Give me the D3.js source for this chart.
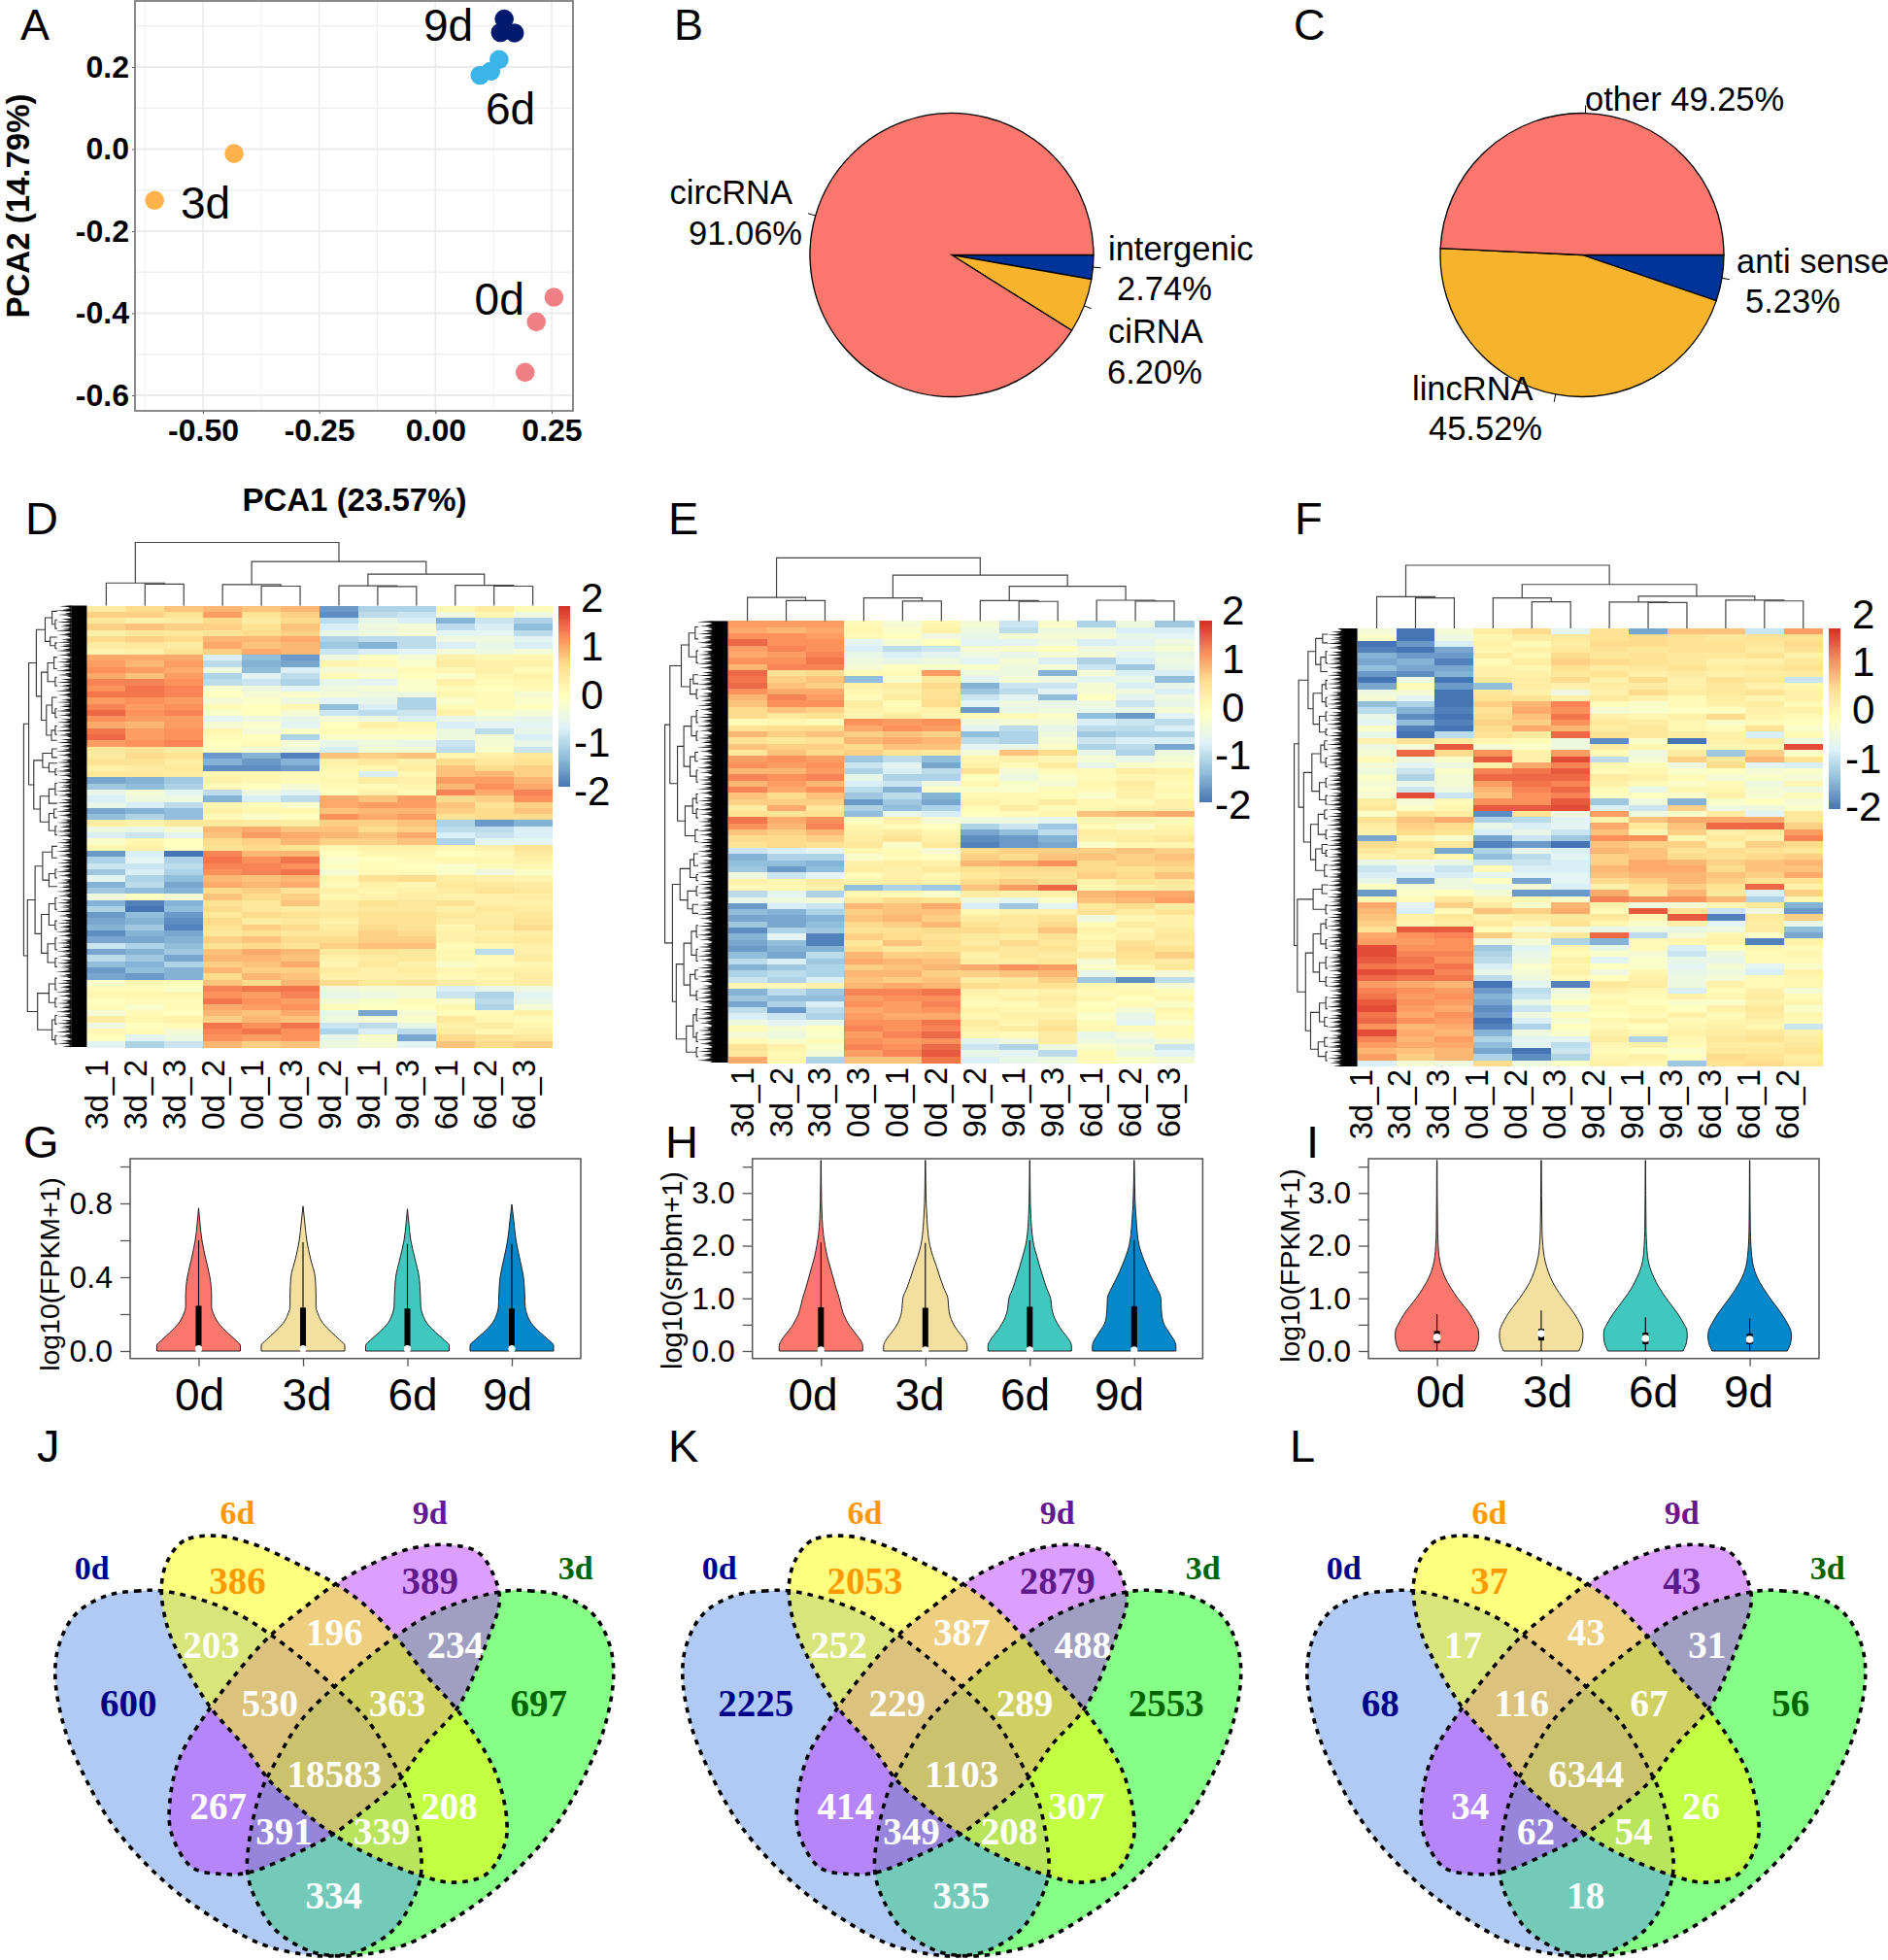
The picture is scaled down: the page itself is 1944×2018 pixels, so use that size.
<!DOCTYPE html>
<html><head><meta charset="utf-8">
<script src="https://cdn.jsdelivr.net/npm/d3@7/dist/d3.min.js"></script>
<style>
html,body{margin:0;padding:0;background:#fff}
svg{display:block}
text{font-family:"Liberation Sans",Arial,sans-serif;fill:#000}
.serif{font-family:"Liberation Serif","Times New Roman",serif;font-weight:bold}
</style></head><body><svg id="c" width="1944" height="2018"></svg>
<script>
/* ---------- PANEL A ---------- */
const pcaGroups=["0d","3d","6d","9d"];
const pcaX0=[0.255,0.217,0.193], pcaY0=[-0.361,-0.421,-0.544];
const pcaX3=[-0.433,-0.604], pcaY3=[-0.011,-0.125];
const pcaX6=[0.137,0.119,0.096], pcaY6=[0.218,0.190,0.180];
const pcaX9=[0.148,0.140,0.170], pcaY9=[0.317,0.284,0.283];
const pcaXTicks=[-0.5,-0.25,0,0.25], pcaYTicks=[-0.6,-0.4,-0.2,0,0.2];
const pcaXMinor=[-0.625,-0.375,-0.125,0.125], pcaYMinor=[-0.5,-0.3,-0.1,0.1,0.3];
/* ---------- PANELS B, C ---------- */
const pieBLabels=["intergenic","ciRNA","circRNA"], pieBValues=[2.74,6.20,91.06];
const pieCLabels=["anti sense","lincRNA","other"], pieCValues=[5.23,45.52,49.25];
/* ---------- PANELS D, E, F ---------- */
const colsD=["3d_1","3d_2","3d_3","0d_2","0d_1","0d_3","9d_2","9d_1","9d_3","6d_1","6d_2","6d_3"];
const colsE=["3d_1","3d_2","3d_3","0d_3","0d_1","0d_2","9d_2","9d_1","9d_3","6d_1","6d_2","6d_3"];
const colsF=["3d_1","3d_2","3d_3","0d_1","0d_2","0d_3","9d_2","9d_1","9d_3","6d_3","6d_1","6d_2"];
const legendTicks=[2,1,0,-1,-2];
/* z-scores × 10, read band by band */
const heatD=[
[4,7,9,10,9,10,-14,-9,-9,2,4,1],[8,8,6,12,6,8,-15,-8,-7,-3,2,-3],[5,3,4,7,4,7,-8,-4,-6,-12,-7,-9],[8,9,8,8,6,9,-6,-3,-2,-8,-6,-11],
[3,5,5,6,7,8,-4,-3,-2,-5,-5,-8],[7,8,7,10,10,11,-9,-8,-8,-3,-3,-5],[4,5,4,11,9,10,-10,-12,-8,-6,-4,-6],[2,3,6,8,11,10,-7,-6,-5,-2,-3,-2],
[11,11,11,-6,-11,-14,-3,0,-2,3,2,2],[12,10,12,-8,-12,-13,2,1,-1,4,3,3],[13,12,11,-3,-11,-6,-2,-2,1,2,3,1],[11,9,12,-9,-5,-8,1,-1,0,-1,2,3],
[14,14,13,-8,-7,-9,-4,-5,-1,3,1,2],[13,15,14,-1,-3,-5,-3,-2,-1,1,0,1],[15,15,14,0,-2,-1,-2,-3,-3,2,1,-2],[12,13,12,-2,-1,-3,-5,-4,-9,-1,1,-1],
[14,12,13,1,0,2,-11,-6,-9,1,1,0],[16,13,14,-1,0,-2,-7,-8,-7,3,-1,-2],[13,12,12,-5,-3,-4,-2,-3,-6,-4,-3,-4],[11,10,12,-2,-1,-5,0,3,2,-6,-5,-5],
[15,12,13,2,-2,-1,1,1,1,-3,-8,-4],[16,12,13,1,0,-9,-1,-1,-1,-3,-2,-6],[12,13,14,0,1,-2,-4,-3,-4,-7,-2,-4],[5,6,4,0,-2,-3,-6,-2,-2,-8,-1,-7],
[4,7,6,-14,-12,-16,9,8,9,2,3,5],[6,6,4,-12,-14,-12,3,5,3,7,5,6],[3,4,5,-15,-15,-14,2,2,4,9,7,8],[5,5,4,2,2,1,1,-6,2,9,10,8],
[-13,-12,-10,3,2,1,2,4,3,12,12,10],[-10,-11,-9,1,0,-2,1,1,2,10,13,11],[-4,-2,-5,-8,-3,-5,0,3,1,14,11,14],[-6,-3,-3,-12,-6,-8,11,9,12,7,8,13],
[-4,-6,-8,2,1,-1,11,12,12,9,6,8],[-13,-12,-11,3,2,2,9,10,10,8,7,9],[-11,-9,-11,1,-1,0,13,11,12,6,7,7],[4,3,5,5,4,4,8,8,9,-9,-14,-12],
[-3,-4,-2,10,11,9,9,7,8,-8,-8,-6],[-6,-7,-5,9,12,11,10,9,11,-6,-7,-6],[-1,2,0,7,8,10,8,8,9,-9,-5,-5],[2,3,0,6,7,6,2,3,3,2,3,6],
[-14,-6,-17,14,10,10,0,2,2,0,1,4],[-9,-5,-9,15,13,15,-1,0,1,2,2,3],[-7,-7,-8,14,14,13,0,1,0,-1,1,2],[-10,-6,-9,13,14,15,-2,1,1,-1,-3,-1],
[-5,-9,-11,10,9,10,2,6,7,4,3,2],[-12,-8,-13,11,10,11,1,3,2,5,5,4],[-10,-11,-12,7,8,6,3,2,3,4,6,5],[-3,0,-2,9,7,8,2,3,4,3,3,4],
[-12,-16,-12,6,5,9,4,6,5,6,3,3],[-9,-17,-11,7,5,4,4,5,5,3,5,4],[-14,-11,-14,5,7,6,5,6,6,5,4,5],[-13,-12,-15,7,4,5,3,6,6,4,4,6],
[-12,-10,-16,6,8,7,4,7,6,2,5,7],[-15,-12,-13,5,6,5,5,8,7,3,3,4],[-13,-13,-12,8,9,7,7,8,8,3,4,5],[-7,-9,-11,6,7,6,8,9,9,1,2,3],
[-13,-12,-10,9,11,10,5,6,5,2,-8,3],[-8,-10,-13,10,10,9,3,4,5,2,1,4],[-11,-12,-9,8,9,11,2,5,3,-1,1,2],[-14,-11,-12,10,8,8,4,3,4,2,3,3],
[-13,-14,-12,7,10,9,3,3,3,1,2,4],[-1,2,1,9,7,10,7,5,6,4,3,4],[1,1,-1,14,15,15,-3,-2,-2,-6,-4,-3],[2,2,2,13,12,14,-4,-3,-2,-7,-9,-5],
[0,1,1,15,13,12,-2,-1,1,-1,-8,-4],[1,-1,1,11,12,13,1,0,0,2,-9,-2],[-2,1,0,10,9,11,-4,-13,-2,1,1,3],[4,2,3,8,10,9,-3,-2,-1,5,2,1],
[-3,0,1,15,13,15,-7,-8,-4,3,4,2],[2,1,-2,14,15,13,-9,-6,-8,4,2,3],[0,-5,-3,13,12,13,-4,-1,-13,7,6,5],[-5,-9,-7,10,8,9,-3,-2,-5,9,7,8]];
const heatE=[
[12,12,12,1,-2,2,-2,-7,-1,-9,-3,-10],[11,10,11,2,-1,3,-3,-8,-3,-3,-6,-6],[13,13,12,1,0,-3,-4,-2,-2,-2,-4,-5],[16,13,13,-5,-2,0,-5,-5,-3,-6,-5,-3],
[12,14,13,-6,-8,-7,-2,-1,0,-3,-3,-2],[11,12,14,-4,-6,-5,-3,-4,-2,-2,-5,-4],[13,13,15,-3,-4,-3,-5,-2,-6,-9,-6,-3],[10,14,14,-2,0,-1,-1,-3,-2,-7,-10,-4],
[16,6,7,1,1,12,-3,-3,-12,-2,-6,-6],[15,8,9,-11,-1,5,-5,-2,-3,-5,-4,-11],[16,9,8,3,4,7,-12,-7,-7,-2,-6,-4],[13,11,11,2,3,6,-10,-8,-5,-2,-3,-6],
[10,14,12,1,4,6,-7,-5,-11,0,-5,-3],[9,13,13,4,1,7,-5,-3,-4,-3,-7,-4],[7,9,8,3,2,3,-14,-4,-3,-4,-4,-2],[7,5,6,2,4,2,1,1,-1,-11,-14,-5],
[1,2,1,13,12,13,-3,-2,-2,-6,-7,-8],[6,7,7,11,13,12,-5,-8,-4,-8,-8,-6],[10,8,9,8,9,8,-11,-9,-3,-10,-9,-9],[6,5,6,10,11,10,-8,-9,-2,-7,-6,-6],
[9,8,8,7,9,9,-5,-4,-1,-9,-8,-13],[5,9,7,8,6,5,-2,9,7,-4,-9,-3],[12,13,12,-10,-8,-11,2,3,2,-2,-4,-2],[13,12,13,-7,-5,-13,3,1,4,-4,-1,-1],
[10,10,12,-9,-6,-8,6,-2,1,1,4,3],[14,13,14,-4,-9,-9,0,-3,-1,1,2,2],[10,12,10,-6,-7,-3,2,-1,-2,2,4,1],[14,11,13,-8,-12,-1,-1,-1,1,1,3,2],
[9,7,9,-10,-8,-12,2,2,1,-1,3,1],[8,8,8,-14,-10,-13,3,2,4,2,1,3],[4,11,5,-9,-11,-9,1,4,1,2,3,3],[6,6,6,-11,-4,-6,0,1,2,9,10,11],
[15,11,13,0,3,-2,-3,-3,-5,2,2,1],[13,10,14,2,1,0,-9,-7,-10,1,-1,2],[9,8,10,3,4,2,-13,-11,-8,4,3,3],[7,7,8,4,6,3,-15,-14,-12,3,4,5],
[6,7,6,5,-1,5,-16,-14,-13,-1,2,2],[-7,-6,-5,2,1,-2,7,8,8,8,9,8],[-12,-9,-9,-1,1,0,8,7,9,9,8,9],[-11,-11,-12,3,4,3,10,11,13,7,8,8],
[-10,-14,-11,4,3,5,6,7,7,7,6,7],[-3,-7,-5,1,3,2,5,6,6,8,7,9],[3,2,4,3,4,3,7,8,7,3,6,5],[1,2,3,-11,-9,-10,9,12,16,2,3,4],
[-8,-5,-9,2,1,-1,4,3,3,10,11,11],[-4,-3,-2,5,7,6,-3,-5,-1,9,10,12],[-14,-6,-7,10,9,11,-6,-10,-5,5,7,4],[-11,-12,-9,8,9,9,2,3,3,6,4,6],
[-13,-13,-12,9,10,8,4,5,6,-3,2,3],[-10,-13,-11,7,8,10,6,5,7,1,4,3],[-15,-9,-10,6,6,7,7,6,9,3,2,4],[-12,-5,-16,8,7,6,5,4,6,2,3,5],
[-13,-11,-16,5,9,7,4,7,5,3,6,4],[-14,-12,-12,7,5,6,6,5,6,2,7,6],[-11,-13,-8,10,8,8,3,5,4,4,6,8],[-8,-6,-10,11,10,9,4,4,5,-2,5,4],
[-12,-10,-9,8,9,10,11,13,12,-1,2,5],[-9,-8,-9,10,10,8,8,9,10,-4,-1,-2],[-7,-9,-6,9,8,9,4,5,8,-10,-15,-8],[2,1,3,10,11,10,7,6,6,2,1,-2],
[-12,-8,-10,14,14,15,3,2,3,1,2,1],[-10,-11,-11,12,13,13,2,3,4,2,0,2],[-13,-9,-6,13,12,14,1,1,3,0,1,-1],[-8,-14,-8,11,12,13,3,2,2,1,-2,2],
[-6,-7,-9,12,11,11,2,3,3,-1,-4,1],[-3,-5,-4,13,13,15,4,2,5,1,-5,-1],[1,-2,0,14,13,14,3,4,6,2,1,1],[-2,-3,-1,12,14,16,2,1,4,-4,-2,1],
[1,-1,1,13,12,13,-5,-3,4,-3,-4,-2],[6,3,-1,14,13,16,-7,-9,-3,-1,-2,-7],[5,2,-2,12,14,17,-4,-5,-8,1,-3,-5],[11,2,-9,9,9,15,-6,-4,-3,1,-1,-2]];
const heatF=[
[-2,-18,-2,4,7,-5,6,-13,9,9,-7,12],[-1,-18,-3,2,4,5,6,7,6,5,6,6],[-17,-14,-6,3,1,4,7,7,6,6,5,7],[-16,-17,-13,2,3,5,6,5,6,6,4,6],
[-12,-14,-14,4,2,7,5,6,5,5,6,3],[-13,-12,-16,1,4,8,7,6,5,3,3,5],[-11,-13,-13,3,2,6,4,5,6,4,5,6],[-14,-15,-12,3,3,5,6,3,4,3,4,4],
[-17,-3,-17,5,4,7,3,7,3,6,5,-7],[-13,1,-14,-11,4,3,4,4,3,5,3,2],[-3,-2,-18,5,3,-3,3,7,4,5,6,3],[-2,-5,-18,6,6,3,5,3,1,4,2,3],
[-11,-9,-18,8,10,14,1,-1,1,3,4,1],[-8,-12,-16,6,11,13,-2,-1,0,0,3,3],[-4,-15,-17,7,9,15,3,2,3,7,2,1],[-5,-11,-16,8,8,13,5,4,2,-1,1,0],
[-1,-16,-17,7,11,10,4,5,2,1,6,-1],[-4,-17,-8,6,5,16,6,5,4,3,-6,1],[3,6,4,2,1,-3,-15,-1,-17,3,4,-3],[-3,-2,17,-2,-1,-3,4,2,1,2,2,18],
[-2,16,7,13,3,12,1,-3,4,-10,8,-1],[1,-3,-1,17,3,18,-8,-2,8,5,10,6],[-2,-5,-3,3,11,14,2,1,-3,7,-5,-6],[-3,-7,-1,14,15,17,1,2,-1,0,-2,-1],
[-1,-9,-2,16,16,16,4,3,1,-2,-1,-2],[-2,-4,-2,12,15,14,3,1,-1,1,-3,2],[-1,-7,-3,10,14,16,1,-4,2,2,-2,-3],[-2,18,-7,9,13,14,0,0,-1,3,-2,1],
[4,-2,1,13,13,17,-10,-3,-12,-1,0,-2],[5,-1,2,17,17,18,-6,-7,8,-3,-3,-1],[-1,6,4,-15,6,-3,12,-3,-1,4,-5,5],[6,9,11,-9,-8,-5,3,9,11,11,11,5],
[4,8,7,-4,-6,-5,11,5,9,16,16,8],[3,7,6,-6,-4,-7,9,2,8,3,5,12],[-13,2,-1,-13,-7,-10,13,13,2,5,3,14],[7,6,5,-16,-14,-18,9,8,8,3,8,7],
[5,3,-13,-9,-4,-6,10,9,6,7,6,5],[3,4,2,-11,-8,-5,8,9,7,6,7,8],[-4,-3,-4,-7,-7,-6,8,11,10,8,9,10],[-7,-5,-7,1,-6,-6,10,11,11,7,9,9],
[-6,-6,-6,-5,-5,-5,9,10,10,9,8,11],[-4,-13,-3,0,-13,-5,7,8,10,8,6,6],[0,-2,-3,-4,-2,-6,3,6,8,6,16,3],[-14,-1,0,-2,-14,-14,11,5,10,5,-6,8],
[2,1,5,2,2,-1,14,13,13,10,-9,2],[11,-5,8,4,-1,10,3,-3,-2,2,5,-12],[10,-6,1,9,8,11,1,17,6,-7,-3,-14],[9,3,5,3,4,5,5,2,17,-16,5,8],
[8,2,4,5,2,6,2,-1,3,-5,4,-4],[6,17,17,1,-2,-2,-4,-3,-4,-3,4,-11],[11,13,14,8,3,5,16,-8,-2,2,-1,-13],[12,12,13,-3,-2,-9,-12,1,2,3,-16,3],
[18,13,13,-10,-5,2,-4,1,-6,0,2,1],[18,14,14,-9,-4,1,-1,-2,-7,-3,1,2],[17,15,13,-8,-3,3,-5,-1,-4,-4,1,1],[15,14,15,-6,-1,2,0,-1,-5,-2,-5,-1],
[18,17,14,-4,-2,3,-3,2,-4,-3,-6,3],[16,15,15,-8,-3,1,0,3,-3,-2,1,2],[12,11,10,-17,-5,-16,5,4,-3,3,1,2],[14,13,12,-14,-8,-3,3,2,-6,1,3,-2],
[15,12,13,-12,-7,-2,1,1,3,2,4,1],[17,13,12,-13,-4,0,2,0,-1,-1,3,2],[18,12,11,-15,-7,-3,1,2,0,3,5,-1],[15,11,13,-14,-3,1,0,1,3,1,4,2],
[16,13,12,-17,-6,-2,2,3,1,2,3,1],[13,10,11,-16,-9,0,1,0,2,3,2,-7],[18,11,10,-12,-3,-1,3,2,3,4,5,3],[14,10,12,-9,-5,-5,4,-9,2,5,6,4],
[12,11,11,-11,-5,-8,2,3,1,4,4,5],[10,9,10,-13,-17,-7,1,0,-1,5,5,6],[12,8,10,-9,-15,-9,2,3,0,7,6,4],[-6,-2,-3,7,-3,-1,3,2,-10,6,7,5]];
/* column dendrograms: [height, left, right], leaves are column numbers */
const colTreeD=[1,[.358,0,[.34,1,2]],[.698,[.333,3,[.308,4,5]],[.497,[.314,6,[.302,7,8]],[.32,9,[.308,10,11]]]]];
const colTreeE=[1,[.373,0,[.323,1,2]],[.728,[.367,3,[.316,4,5]],[.55,[.323,6,[.31,7,8]],[.329,9,[.316,10,11]]]]];
const colTreeF=[1,[.503,0,[.484,1,2]],[.696,[.484,3,[.42,4,5]],[.509,[.416,6,[.41,7,8]],[.447,9,[.435,10,11]]]]];
/* row dendrograms: leaves are numbers of rows */
const rowTreeD=[1,
 [.92,[.8,[.66,[.55,2,[.5,1,2]],[.58,1,[.5,1,1]]],[.72,[.62,[.52,2,2],[.5,1,2]],[.64,[.55,2,[.5,2,1]],[.56,[.5,2,1],1]]]],
  [.84,[.7,[.55,2,1],[.6,1,[.5,1,1]]],[.74,[.6,[.5,2,2],1],[.6,[.52,1,2],[.5,1,2]]]]],
 [.94,[.82,[.7,[.55,2,2],[.6,[.5,2,1],2]],[.72,[.6,[.5,2,2],[.5,2,1]],[.62,[.5,2,2],[.5,1,2]]]],
  [.78,[.6,[.5,2,2],[.5,1,2]],[.55,[.5,1,2],[.5,2,1]]]]];
const rowTreeE=[1,
 [.92,[.74,[.62,[.52,2,2],[.5,2,2]],[.6,[.55,2,1],[.5,1,2]]],
  [.8,[.7,[.58,[.5,2,2],[.5,1,2]],[.6,[.52,2,1],[.5,2,2]]],[.68,[.56,[.5,2,1],[.5,1,2]],[.52,2,2]]]],
 [.88,[.76,[.6,[.54,2,2],[.5,1,1]],[.64,[.5,1,2],[.56,1,2]]],
  [.82,[.7,[.58,[.5,2,2],[.5,2,2]],[.6,[.52,1,2],[.5,2,1]]],[.66,[.55,[.5,2,2],[.5,2,1]],[.5,1,2]]]]];
const rowTreeF=[1,
 [.93,[.78,[.66,[.55,2,1],[.58,[.5,2,2],1]],[.7,[.56,[.5,2,1],[.5,2,1]],[.6,[.5,1,2],[.5,1,1]]]],
  [.85,[.72,[.58,[.52,1,2],[.5,1,2]],[.6,[.5,2,1],[.5,2,1]]],[.74,[.62,[.52,1,2],[.5,2,1]],[.66,[.56,1,[.5,1,1]],[.52,2,2]]]]],
 [.95,[.7,[.56,1,2],[.5,2,1]],
  [.82,[.7,[.58,[.5,1,2],[.5,2,1]],[.6,[.5,2,2],[.5,1,2]]],[.74,[.6,[.5,2,2],[.52,1,2]],[.62,[.52,2,1],[.5,1,2]]]]]];
/* depth of the fine spikes at the leaf ends of the row dendrograms */
const spikeDepth=[.44,.3,.38,.5,.28,.36,.46,.32,.27,.41,.34,.48,.29,.39];
/* ---------- PANELS G, H, I ---------- */
const violinGroups=["0d","3d","6d","9d"];
const violinFill=["#FB766D","#F3E0A0","#41C8BE","#0388CC"];
const gLevels=[0,.03,.06,.1,.15,.2,.24,.3,.4,.5,.6,.7];
const gDensity=[[1,1,.88,.69,.48,.36,.31,.31,.27,.17,.08,.03],[1,1,.88,.69,.48,.36,.31,.31,.29,.18,.09,.04],[1,1,.88,.68,.47,.36,.32,.31,.28,.18,.08,.03],[1,1,.88,.68,.47,.36,.32,.31,.28,.19,.1,.05]];
const gTop=[.775,.785,.77,.795], gWhisker=[.6,.59,.58,.58], gQ3=[.245,.235,.23,.23], gQ1=[.025,.025,.025,.025], gMedian=[.012,.012,.012,.012];
const hLevels=[0,.1,.2,.3,.4,.5,.6,.7,.8,1,1.2,1.4,1.6,1.8,2,2.2,2.5,2.8];
const hDensity=[[1,1,.95,.86,.76,.67,.6,.54,.5,.44,.36,.29,.22,.15,.1,.06,.03,.015],[1,1,.95,.86,.76,.68,.62,.58,.56,.54,.44,.35,.27,.18,.11,.07,.04,.02],[1,1,.95,.86,.76,.68,.61,.56,.53,.5,.4,.32,.24,.17,.1,.06,.03,.015],[1,1,.96,.88,.8,.72,.68,.66,.65,.64,.54,.41,.3,.2,.12,.08,.05,.025]];
const hTop=[3.62,3.62,3.62,3.62], hWhisker=[2.06,2.05,2.1,2.1], hQ3=[.83,.82,.84,.85], hQ1=[.06,.06,.06,.06], hMedian=[.02,.02,.02,.02];
const iLevels=[0,.05,.1,.2,.28,.4,.5,.7,1,1.2,1.4,1.6,1.8,2,2.3];
const iDensity=[[.9,.93,.96,.99,1,.99,.93,.79,.5,.33,.19,.1,.05,.03,.015],[.9,.93,.96,.99,1,.99,.94,.8,.52,.35,.22,.13,.07,.04,.02],[.9,.93,.96,.99,1,.99,.93,.78,.5,.33,.2,.1,.05,.03,.015],[.9,.93,.96,.99,1,.98,.92,.77,.49,.32,.18,.09,.05,.03,.015]];
const iTop=[3.62,3.62,3.62,3.62], iWhisker=[.7,.77,.64,.62], iQ3=[.38,.42,.35,.33], iQ1=[.15,.2,.13,.13], iMedian=[.26,.33,.24,.22];
/* ---------- PANELS J, K, L ---------- */
const vennSets=["0d","6d","9d","3d"];
const vennJ=[600,386,389,697,203,196,234,530,363,18583,267,208,391,339,334];
const vennK=[2225,2053,2879,2553,252,387,488,229,289,1103,414,307,349,208,335];
const vennL=[68,37,43,56,17,43,31,116,67,6344,34,26,62,54,18];

/* ---------- drawing helpers ---------- */
const svg=d3.select("#c");
const label=(x,y,s,size,o={})=>svg.append("text").attr("x",x).attr("y",y).attr("font-size",size).attr("text-anchor",o.anchor||"start").attr("font-weight",o.bold?"bold":null).attr("transform",o.rot?`rotate(${o.rot} ${x} ${y})`:null).text(s);
[["A",21,41,45],["B",694,41,45],["C",1332,41,45],["D",26,550,47],["E",688,550,47],["F",1333,550,47],["G",24,1192,47],["H",685,1192,47],["I",1345,1192,47],["J",38,1505,47],["K",688,1505,47],["L",1328,1505,47]]
 .forEach(d=>label(d[1],d[2],d[0],d[3]));

/* A */
(function(){
 const x=d3.scaleLinear().domain([-0.5,0.25]).range([209,568]);
 const y=d3.scaleLinear().domain([-0.6,0.2]).range([407,69]);
 const L=139,R=590,T=1,B=423;
 const g=svg.append("g");
 g.selectAll(".gx").data(pcaXTicks).join("line").attr("x1",x).attr("x2",x).attr("y1",T).attr("y2",B).attr("stroke","#ebebeb").attr("stroke-width",1.6);
 g.selectAll(".gxm").data(pcaXMinor).join("line").attr("x1",x).attr("x2",x).attr("y1",T).attr("y2",B).attr("stroke","#f0f0f0").attr("stroke-width",1);
 g.selectAll(".gy").data(pcaYTicks).join("line").attr("x1",L).attr("x2",R).attr("y1",y).attr("y2",y).attr("stroke","#ebebeb").attr("stroke-width",2);
 g.selectAll(".gym").data(pcaYMinor).join("line").attr("x1",L).attr("x2",R).attr("y1",y).attr("y2",y).attr("stroke","#f0f0f0").attr("stroke-width",1.4);
 const ax=svg.append("g").attr("transform",`translate(0,${B})`).call(d3.axisBottom(x).tickValues(pcaXTicks).tickSize(3).tickPadding(5).tickFormat(d3.format(".2f")));
 const ay=svg.append("g").attr("transform",`translate(${L},0)`).call(d3.axisLeft(y).tickValues(pcaYTicks).tickSize(3).tickPadding(3).tickFormat(d3.format(".1f")));
 [ax,ay].forEach(a=>{a.select(".domain").remove();a.selectAll("text").attr("font-size",32).attr("font-weight","bold").style("font-family",'"Liberation Sans",sans-serif').text(function(){return this.textContent.replace("−","-")});a.selectAll("line").attr("stroke","#555")});
 svg.append("rect").attr("x",L).attr("y",T).attr("width",R-L).attr("height",B-T).attr("fill","none").attr("stroke","#7f7f7f").attr("stroke-width",1.8);
 [[pcaX0,pcaY0,"#F08085"],[pcaX3,pcaY3,"#FDB24C"],[pcaX6,pcaY6,"#3DB4E7"],[pcaX9,pcaY9,"#021A6E"]].forEach(s=>{
  svg.append("g").selectAll("circle").data(s[0]).join("circle").attr("cx",d=>x(d)).attr("cy",(d,i)=>y(s[1][i])).attr("r",9.8).attr("fill",s[2]);
 });
 [["0d",488.6,324],["3d",186,225],["6d",500,128],["9d",436,42]].forEach(d=>label(d[1],d[2],d[0],46));
 label(365,526,"PCA1 (23.57%)",33,{anchor:"middle",bold:true});
 label(30,212,"PCA2 (14.79%)",33,{anchor:"middle",bold:true,rot:-90});
})();

/* B, C */
function drawPie(cx,cy,r,labels,values,colors){
 const arcs=d3.pie().sort(null).startAngle(Math.PI/2).endAngle(Math.PI*2.5)(values);
 const g=svg.append("g").attr("transform",`translate(${cx},${cy})`);
 g.selectAll("path").data(arcs).join("path").attr("d",d3.arc().innerRadius(0).outerRadius(r)).attr("fill",(d,i)=>colors[i]).attr("stroke","#000").attr("stroke-width",1.3);
 g.selectAll("line").data(arcs).join("line").each(function(d){
  const a=(d.startAngle+d.endAngle)/2-Math.PI/2;
  d3.select(this).attr("x1",Math.cos(a)*r).attr("y1",Math.sin(a)*r).attr("x2",Math.cos(a)*(r+8)).attr("y2",Math.sin(a)*(r+8)).attr("stroke","#000").attr("stroke-width",1);
 });
}
const pieColors=["#00349B","#F7B32B","#FB766D"];
drawPie(980,262.5,146,pieBLabels,pieBValues,pieColors);
drawPie(1629,262.5,146,pieCLabels,pieCValues,pieColors);
[[689.5,210,pieBLabels[2]],[709,252,pieBValues[2].toFixed(2)+"%"],[1141,268,pieBLabels[0]],[1150,309,pieBValues[0].toFixed(2)+"%"],[1141,353,pieBLabels[1]],[1140,395,pieBValues[1].toFixed(2)+"%"],
 [1632,114,pieCLabels[2]+" "+pieCValues[2].toFixed(2)+"%"],[1788,281,pieCLabels[0]],[1797,322,pieCValues[0].toFixed(2)+"%"],[1454,412,pieCLabels[1]],[1471,453,pieCValues[1].toFixed(2)+"%"]]
 .forEach(d=>label(d[0],d[1],d[2],34.5));

/* D, E, F */
const zStops=["#4575B4","#91BFDB","#E0F3F8","#FFFFBF","#FEE090","#FC8D59","#D73027"];
const zColor=d3.scaleLinear().domain([-2,-1.33,-.67,0,.67,1.33,2]).range(zStops).clamp(true);
const cellColor=d3.scaleLinear().domain([-1.7,-1.1,-.55,0,.67,1.33,2]).range(zStops).clamp(true);
function drawHeat(p){
 const x=d3.scaleBand().domain(d3.range(12)).range([p.L,p.R]);
 const y=d3.scaleBand().domain(d3.range(p.data.length)).range([p.T,p.B]);
 const g=svg.append("g").attr("shape-rendering","crispEdges");
 g.selectAll("g").data(p.data).join("g").attr("transform",(d,i)=>`translate(0,${y(i)})`)
  .selectAll("rect").data(d=>d).join("rect").attr("x",(d,i)=>x(i)).attr("width",x.bandwidth()+.5).attr("height",y.bandwidth()+.5).attr("fill",d=>cellColor(d/10));
 /* column dendrogram */
 const hy=d3.scaleLinear().domain([0,1]).range([p.T,p.T-65]);
 const ct=d3.hierarchy(p.colTree,d=>Array.isArray(d)?d.slice(1):null);
 const dg=svg.append("g").attr("fill","none").attr("stroke","#444").attr("stroke-width",1.2);
 ct.eachAfter(n=>{
  if(!n.children){n.px=x(n.data)+x.bandwidth()/2;n.h=0;return;}
  n.h=n.data[0];n.px=(n.children[0].px+n.children[1].px)/2;
  const [a,b]=n.children;
  dg.append("path").attr("d",`M${a.px},${hy(a.h)}V${hy(n.h)}H${b.px}V${hy(b.h)}`);
 });
 /* row dendrogram */
 const rootR=d3.hierarchy(p.rowTree,d=>Array.isArray(d)?d.slice(1):null);
 const total=d3.sum(rootR.leaves(),l=>l.data);
 const ry=d3.scaleLinear().domain([0,total]).range([p.T,p.B]);
 const hx=d3.scaleLinear().domain([0,1]).range([p.L,p.L-65]);
 const rg=svg.append("g").attr("fill","none").attr("stroke","#333").attr("stroke-width",1.1);
 svg.append("rect").attr("x",hx(.24)).attr("y",p.T).attr("width",p.L-hx(.24)).attr("height",p.B-p.T).attr("fill","#000");
 const sg=svg.append("g").attr("fill","#000");
 let cum=0,sk=p.spikeStart;
 rootR.eachAfter(n=>{
  if(!n.children){
   n.py=cum+n.data/2;n.h=.47;
   const m=n.data*4;
   for(let k=0;k<m;k++){
    const a=cum+n.data*k/m,b=cum+n.data*(k+1)/m;
    sg.append("path").attr("d",d3.line()([[hx(spikeDepth[sk++%spikeDepth.length]),ry((a+b)/2)],[hx(.24),ry(a-.04)],[hx(.24),ry(b+.04)]]));
   }
   cum+=n.data;return;
  }
  n.h=n.data[0];n.py=(n.children[0].py+n.children[1].py)/2;
  const [a,b]=n.children;
  rg.append("path").attr("d",`M${hx(a.h)},${ry(a.py)}H${hx(n.h)}V${ry(b.py)}H${hx(b.h)}`);
 });
 /* column labels */
 p.cols.forEach((c,i)=>{const bx=x(i)+x.bandwidth()/2+p.lab; label(bx,p.labTop,c,32.5,{anchor:"end",rot:-90});});
 /* legend */
 const ly=d3.scaleLinear().domain([2,-2]).range([p.T,p.legB]);
 svg.append("g").attr("shape-rendering","crispEdges").selectAll("rect").data(d3.range(2,-2,-0.04)).join("rect").attr("x",p.legL).attr("y",d=>ly(d)).attr("width",p.legW).attr("height",(p.legB-p.T)/100+.6).attr("fill",d=>zColor(d));
 legendTicks.forEach((t,i)=>label(t<0?p.legX-7:p.legX,p.legY[i]+15,String(t),42));
}
drawHeat({data:heatD,cols:colsD,colTree:colTreeD,rowTree:rowTreeD,spikeStart:0,L:89.4,R:568.6,T:623.5,B:1078,lab:2,labTop:1091,legL:574.7,legW:12.5,legB:809.6,legX:598,legY:[615,664.7,714.5,763.5,813.7]});
drawHeat({data:heatE,cols:colsE,colTree:colTreeE,rowTree:rowTreeE,spikeStart:3,L:749.6,R:1229,T:639.4,B:1094,lab:6,labTop:1099,legL:1235,legW:12.5,legB:825.5,legX:1258,legY:[628,677.8,727.5,777,827.6]});
drawHeat({data:heatF,cols:colsF,colTree:colTreeF,rowTree:rowTreeF,spikeStart:7,L:1397.6,R:1876.7,T:647,B:1098,lab:-5,labTop:1101,legL:1882.7,legW:12.7,legB:832,legX:1907,legY:[631.6,680.6,730,780.6,829.6]});

/* G, H, I */
function drawViolin(p){
 const x=d3.scalePoint().domain(violinGroups).range([p.tickX[0],p.tickX[3]]);
 const y=d3.scaleLinear().domain([0,p.yMax]).range([1391,p.yTop]);
 const w=d3.scaleLinear().domain([0,1]).range([0,43]);
 svg.append("rect").attr("x",p.L).attr("y",1193).attr("width",p.R-p.L).attr("height",205.7).attr("fill","#fff").attr("stroke","#555").attr("stroke-width",1.5);
 const ax=svg.append("g").attr("transform","translate(0,1398.7)").call(d3.axisBottom(x).tickSize(8));
 ax.select(".domain").remove();ax.selectAll("line").attr("stroke","#555").attr("stroke-width",1.3);
 ax.selectAll("text").attr("font-size",46).attr("y",p.labBase-1398.7).attr("dy",0).attr("x",(d,i)=>p.labX[i]-x(d)).style("font-family",'"Liberation Sans",sans-serif');
 const ay=svg.append("g").attr("transform",`translate(${p.L},0)`).call(d3.axisLeft(y).tickValues(p.ticks).tickSize(10).tickPadding(p.pad).tickFormat(d=>p.major.includes(d)?d.toFixed(1):""));
 ay.select(".domain").remove();ay.selectAll("line").attr("stroke","#555").attr("stroke-width",1.3);
 ay.selectAll("text").attr("font-size",32).style("font-family",'"Liberation Sans",sans-serif');
 label(p.ylX,p.ylY,p.ylab,p.ylSize,{anchor:"middle",rot:-90});
 violinGroups.forEach((g,i)=>{
  const cx=x(g);
  const pts=p.levels.map((v,j)=>[v,p.density[i][j]]).concat([[p.top[i],p.tail]]);
  const area=d3.area().y(d=>y(d[0])).x0(d=>cx-w(d[1])).x1(d=>cx+w(d[1])).curve(d3.curveMonotoneY);
  svg.append("path").datum(pts).attr("d",area).attr("fill",violinFill[i]).attr("stroke","#222").attr("stroke-width",1);
  svg.append("line").attr("x1",cx).attr("x2",cx).attr("y1",y(p.lowWhisker)).attr("y2",y(p.whisker[i])).attr("stroke","#000").attr("stroke-width",1.1);
  svg.append("rect").attr("x",cx-3).attr("width",6).attr("y",y(p.q3[i])).attr("height",y(p.q1[i])-y(p.q3[i])).attr("fill","#000");
  svg.append("circle").attr("cx",cx).attr("cy",y(p.median[i])).attr("r",p.dot).attr("fill","#fff");
 });
}
drawViolin({L:134,R:598,tickX:[204.5,312,419.6,527],yMax:.8,yTop:1239,ticks:[0,.2,.4,.6,.8,1],major:[0,.4,.8],pad:8,labX:[205,315.5,424.5,522],labBase:1451.7,ylab:"log10(FPKM+1)",ylX:61,ylY:1312,ylSize:28.4,levels:gLevels,density:gDensity,top:gTop,tail:0,whisker:gWhisker,q3:gQ3,q1:gQ1,median:gMedian,lowWhisker:.02,dot:3.6});
drawViolin({L:774.7,R:1238.4,tickX:[845.3,952.7,1060,1167.8],yMax:3,yTop:1228.3,ticks:[0,.5,1,1.5,2,2.5,3,3.5],major:[0,1,2,3],pad:8,labX:[836.5,946.5,1055,1152],labBase:1451.7,ylab:"log10(srpbm+1)",ylX:702,ylY:1308,ylSize:29,levels:hLevels,density:hDensity,top:hTop,tail:.004,whisker:hWhisker,q3:hQ3,q1:hQ1,median:hMedian,lowWhisker:.02,dot:3.6});
drawViolin({L:1409,R:1873,tickX:[1479.6,1587,1694.3,1801.6],yMax:3,yTop:1228.3,ticks:[0,.5,1,1.5,2,2.5,3,3.5],major:[0,1,2,3],pad:8,labX:[1483,1593,1702,1800],labBase:1449,ylab:"log10(FPKM+1)",ylX:1337.5,ylY:1303,ylSize:28.4,levels:iLevels,density:iDensity,top:iTop,tail:.004,whisker:iWhisker,q3:iQ3,q1:iQ1,median:iMedian,lowWhisker:0,dot:3.8});

/* J, K, L : outlines of the four lobes, in panel units */
const lobe0=[[395,460],[340,460],[260,475],[185,530],[145,620],[135,715],[155,860],[200,1000],[280,1170],[400,1330],[520,1440],[640,1520],[740,1550],[815,1555],[880,1540],[960,1480],[1005,1400],[1030,1310],[1025,1200],[1000,1070],[960,970],[900,850],[815,745],[730,655],[660,590],[590,535],[500,490]];
const lobe3=lobe0.map(d=>[1636-d[0],d[1]]);
const lobe6=[[530,295],[450,310],[410,370],[395,450],[410,570],[450,680],[515,810],[600,930],[660,1030],[740,1120],[815,1190],[900,1250],[1030,1315],[1110,1335],[1190,1310],[1235,1220],[1240,1150],[1220,1030],[1190,950],[1120,820],[1040,710],[970,600],[890,500],[815,435],[720,375],[620,320]];
const lobe9=[[1095,322],[1170,345],[1210,420],[1222,490],[1195,600],[1120,810],[1040,920],[975,1030],[880,1130],[815,1190],[720,1250],[610,1305],[545,1310],[470,1290],[420,1190],[415,1100],[440,960],[515,810],[590,690],[665,590],[750,505],[820,440],[900,385],[1000,335]];
const vennLabelPos=[[314,797],[581,432],[1052,432],[1318,797],[517,625],[818,587],[1114,625],[660,797],[972,797],[818,1010],[534,1106],[1099,1106],[695,1183],[934,1183],[817,1375]];
const vennColor={0:"#00008B",1:"#FF9900",2:"#5E1A8C",3:"#006400"};
const vennSetPos=[[225,391,"#00008B"],[581,224,"#FF9900"],[1052,224,"#66188C"],[1408,391,"#006400"]];
function drawVenn(off,values){
 const X=d3.scaleLinear().domain([0,2376]).range([off,off+1000]);
 const Y=d3.scaleLinear().domain([0,2914]).range([1480,2480]);
 const line=d3.line().x(d=>X(d[0])).y(d=>Y(d[1])).curve(d3.curveCatmullRomClosed.alpha(.5));
 const g=svg.append("g");
 [[lobe3,"#0BFF0B"],[lobe0,"#6196EB"],[lobe9,"#BB40FF"],[lobe6,"#FFFF00"]].forEach(l=>g.append("path").attr("d",line(l[0])).attr("fill",l[1]).attr("fill-opacity",.5));
 [lobe3,lobe0,lobe9,lobe6].forEach(l=>g.append("path").attr("d",line(l)).attr("fill","none").attr("stroke","#000").attr("stroke-width",3.6).attr("stroke-dasharray","5.5 6"));
 const t=svg.append("g");
 values.forEach((v,i)=>{
  t.append("text").attr("class","serif").attr("x",X(vennLabelPos[i][0])).attr("y",Y(vennLabelPos[i][1])+13).attr("font-size",39).attr("text-anchor","middle").style("fill",vennColor[i]||"#fff").text(v);
 });
 vennSets.forEach((s,i)=>{
  t.append("text").attr("class","serif").attr("x",X(vennSetPos[i][0])).attr("y",Y(vennSetPos[i][1])+12).attr("font-size",34).attr("text-anchor","middle").style("fill",vennSetPos[i][2]).text(s);
 });
}
drawVenn(0,vennJ);drawVenn(646,vennK);drawVenn(1289,vennL);
</script></body></html>
